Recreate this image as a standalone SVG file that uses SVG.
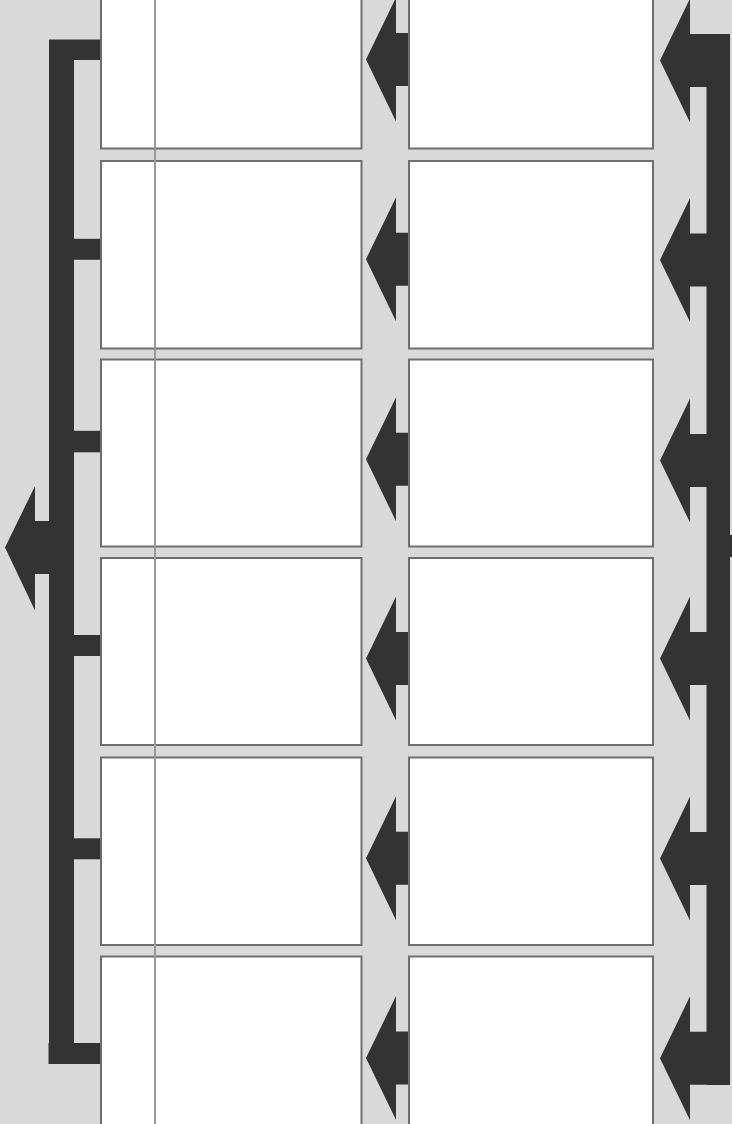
<svg xmlns="http://www.w3.org/2000/svg" width="732" height="1124" viewBox="0 0 732 1124">
<style>
.box{fill:#ffffff;stroke:#6e6e6e;stroke-width:2}
.dark{fill:#333333;stroke:none}
.guide{stroke:#999999;stroke-width:2;fill:none}
</style>
<defs>
<path id="midArrow" d="M366,0 L396,-62 L396,-26.5 L408,-26.5 L408,26.5 L396,26.5 L396,62 Z"/>
<path id="rightArrow" d="M660,0 L690,-62 L690,-26.5 L730,-26.5 L730,26.5 L690,26.5 L690,62 Z"/>
</defs>
<rect x="0" y="0" width="732" height="1124" fill="#d9d9d9"/>
<g id="left-col">
<g id="L1"><rect class="box" x="101" y="-40" width="260.5" height="188.5"/></g>
<g id="L2"><rect class="box" x="101" y="161" width="260.5" height="187.5"/></g>
<g id="L3"><rect class="box" x="101" y="359.5" width="260.5" height="187"/></g>
<g id="L4"><rect class="box" x="101" y="558" width="260.5" height="187"/></g>
<g id="L5"><rect class="box" x="101" y="757.5" width="260.5" height="187.5"/></g>
<g id="L6"><rect class="box" x="101" y="956.5" width="260.5" height="190"/></g>
</g>
<g id="right-col">
<g id="R1"><rect class="box" x="409" y="-40" width="244" height="188.5"/></g>
<g id="R2"><rect class="box" x="409" y="161" width="244" height="187.5"/></g>
<g id="R3"><rect class="box" x="409" y="359.5" width="244" height="187"/></g>
<g id="R4"><rect class="box" x="409" y="558" width="244" height="187"/></g>
<g id="R5"><rect class="box" x="409" y="757.5" width="244" height="187.5"/></g>
<g id="R6"><rect class="box" x="409" y="956.5" width="244" height="190"/></g>
</g>
<line id="guide" class="guide" x1="155" y1="0" x2="155" y2="1124"/>
<g id="connectors">
<g id="mid-arrows" class="dark">
<use href="#midArrow" transform="translate(0,59.5)"/>
<use href="#midArrow" transform="translate(0,259.2)"/>
<use href="#midArrow" transform="translate(0,459.2)"/>
<use href="#midArrow" transform="translate(0,658.6)"/>
<use href="#midArrow" transform="translate(0,858.3)"/>
<use href="#midArrow" transform="translate(0,1058)"/>
</g>
<g id="right-bracket" class="dark">
<rect x="706.5" y="34" width="23.5" height="1051"/>
<use href="#rightArrow" transform="translate(0,60.5)"/>
<use href="#rightArrow" transform="translate(0,260)"/>
<use href="#rightArrow" transform="translate(0,460.5)"/>
<use href="#rightArrow" transform="translate(0,658.5)"/>
<use href="#rightArrow" transform="translate(0,858.5)"/>
<use href="#rightArrow" transform="translate(0,1058.3)"/>
<rect x="729" y="535" width="3" height="22"/>
</g>
<g id="left-bracket" class="dark">
<rect x="49" y="40" width="25" height="1024"/>
<rect x="49" y="39.5" width="51" height="20.5"/>
<rect x="73" y="238.8" width="27" height="21"/>
<rect x="73" y="430.8" width="27" height="21.5"/>
<rect x="73" y="635" width="27" height="21"/>
<rect x="73" y="838.3" width="27" height="21"/>
<rect x="48.5" y="1043" width="51.5" height="21"/>
<path d="M5,547.5 L35,486 L35,521 L50,521 L50,574 L35,574 L35,610.5 Z"/>
</g>
</g>
</svg>
